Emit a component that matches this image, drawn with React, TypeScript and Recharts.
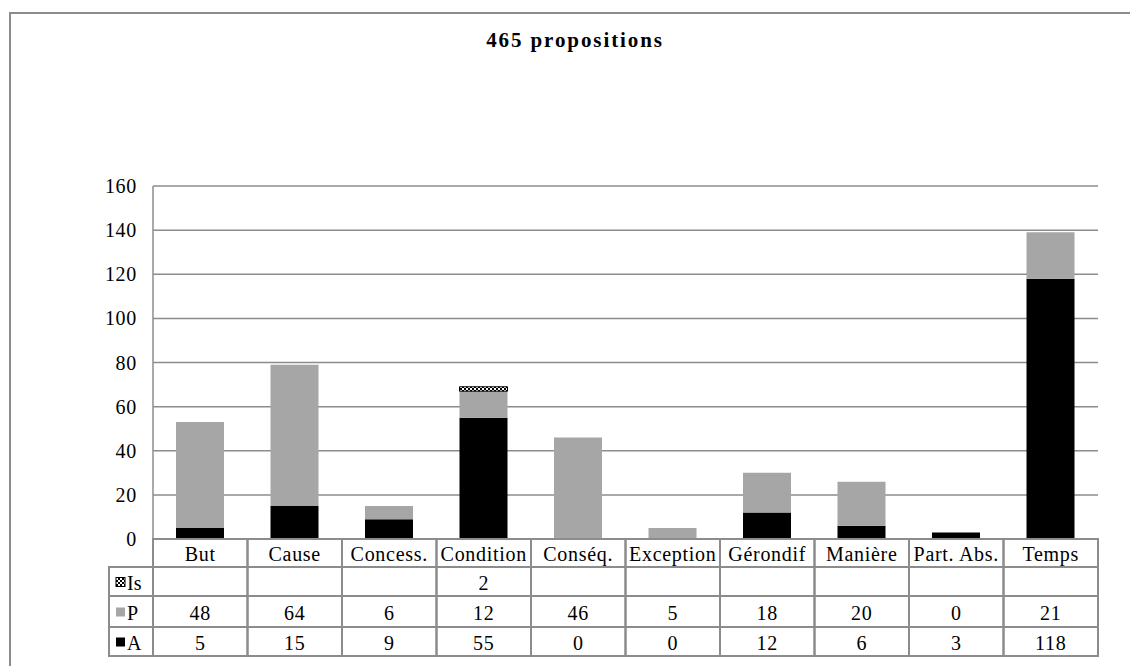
import React from 'react';
import { BarChart, Bar, XAxis, YAxis, CartesianGrid } from 'recharts';

// ---------------------------------------------------------------------------
// Data
// ---------------------------------------------------------------------------

const categories = [
  'But',
  'Cause',
  'Concess.',
  'Condition',
  'Conséq.',
  'Exception',
  'Gérondif',
  'Manière',
  'Part. Abs.',
  'Temps',
];
const aValues = [5, 15, 9, 55, 0, 0, 12, 6, 3, 118];
const pValues = [48, 64, 6, 12, 46, 5, 18, 20, 0, 21];
const isValues: Array<number | null> = [null, null, null, 2, null, null, null, null, null, null];
const yTicks = [0, 20, 40, 60, 80, 100, 120, 140, 160];
const seriesKeys = ['Is', 'P', 'A'];

const data = categories.map((name, i) => ({
  name,
  A: aValues[i],
  P: pValues[i],
  Is: isValues[i],
}));

// ---------------------------------------------------------------------------
// Layout
// ---------------------------------------------------------------------------

const W = 1130;
const H = 666;
const PLOT_LEFT = 153;
const PLOT_RIGHT = 1098;
const PLOT_TOP = 186;
const PLOT_BOTTOM = 539;
const Y_AXIS_W = 60;
const COL_W = (PLOT_RIGHT - PLOT_LEFT) / categories.length;
const ROW_Y = [539, 567, 596, 627, 656];
const KEY_LEFT = 109;

const FONT = '"Liberation Serif", "Times New Roman", serif';
const FONT_SIZE = 20;
const LINE = '#8c8c8c';
const GRAY = '#a6a6a6';

function keySwatch(key: string) {
  if (key === 'Is') return 'url(#isPattern)';
  if (key === 'P') return GRAY;
  return '#000';
}

// one table column per category, placed from the x axis scale
function TableTick(props: any) {
  const { x, index, payload } = props;
  const x0 = x - COL_W / 2;
  const x1 = x + COL_W / 2;
  const isVal = isValues[index];
  const cells = [payload.value, isVal == null ? '' : String(isVal), String(pValues[index]), String(aValues[index])];

  return (
    <g>
      {cells.map((c, r) => {
        const y0 = ROW_Y[r];
        const y1 = ROW_Y[r + 1];
        return (
          <g key={r}>
            <rect x={x0} y={y0} width={x1 - x0} height={y1 - y0} fill="none" stroke={LINE} strokeWidth={2} />
            <text
              x={x}
              y={(y0 + y1) / 2 + 1}
              textAnchor="middle"
              dominantBaseline="central"
              fontFamily={FONT}
              fontSize={FONT_SIZE}
              letterSpacing={0.7}
              fill="#000"
            >
              {c}
            </text>
          </g>
        );
      })}
      {index === 0 &&
        seriesKeys.map((k, r) => {
          const y0 = ROW_Y[r + 1];
          const y1 = ROW_Y[r + 2];
          const cy = (y0 + y1) / 2;
          return (
            <g key={k}>
              <rect x={KEY_LEFT} y={y0} width={PLOT_LEFT - KEY_LEFT} height={y1 - y0} fill="none" stroke={LINE} strokeWidth={2} />
              <rect x={116} y={cy - 4} width={9} height={9} fill={keySwatch(k)} stroke={k === 'Is' ? '#000' : 'none'} strokeWidth={1} />
              <text x={127} y={cy + 1} dominantBaseline="central" fontFamily={FONT} fontSize={FONT_SIZE} fill="#000">
                {k}
              </text>
            </g>
          );
        })}
    </g>
  );
}

export default function App() {
  return (
    <div style={{ position: 'absolute', left: 0, top: 0, width: W, height: H, overflow: 'hidden', background: '#fff' }}>
      <BarChart
        width={W}
        height={H}
        data={data}
        margin={{ top: PLOT_TOP, right: W - PLOT_RIGHT, bottom: 0, left: PLOT_LEFT - Y_AXIS_W }}
        barSize={48}
      >
        <CartesianGrid vertical={false} stroke={LINE} strokeWidth={1.5} />
        <XAxis
          dataKey="name"
          height={H - PLOT_BOTTOM}
          axisLine={false}
          tickLine={false}
          interval={0}
          tick={<TableTick />}
        />
        <YAxis
          width={Y_AXIS_W}
          domain={[0, 160]}
          ticks={yTicks}
          axisLine={{ stroke: LINE, strokeWidth: 1.5 }}
          tickLine={false}
          tickMargin={10}
          tick={{ fill: '#000', fontFamily: FONT, fontSize: FONT_SIZE, letterSpacing: 0.7 }}
        />
        <Bar dataKey="A" stackId="s" fill="#000" isAnimationActive={false} />
        <Bar dataKey="P" stackId="s" fill={GRAY} isAnimationActive={false} />
        <Bar dataKey="Is" stackId="s" fill="url(#isPattern)" stroke="#000" strokeWidth={1} isAnimationActive={false} />
      </BarChart>

      <svg
        width={W}
        height={H}
        style={{ position: 'absolute', left: 0, top: 0, pointerEvents: 'none' }}
      >
        <defs>
          <pattern id="isPattern" width={4} height={4} patternUnits="userSpaceOnUse">
            <rect width={4} height={4} fill="#fff" />
            <rect x={0} y={0} width={2} height={2} fill="#000" />
            <rect x={2} y={2} width={2} height={2} fill="#000" />
          </pattern>
        </defs>
        {/* outer chart frame */}
        <line x1={10} y1={13} x2={W} y2={13} stroke={LINE} strokeWidth={2} />
        <line x1={10} y1={12} x2={10} y2={H} stroke={LINE} strokeWidth={2} />
        <text
          x={575}
          y={47}
          textAnchor="middle"
          fontFamily={FONT}
          fontWeight="bold"
          fontSize={21}
          letterSpacing={1.9}
          fill="#000"
        >
          465 propositions
        </text>
      </svg>
    </div>
  );
}
